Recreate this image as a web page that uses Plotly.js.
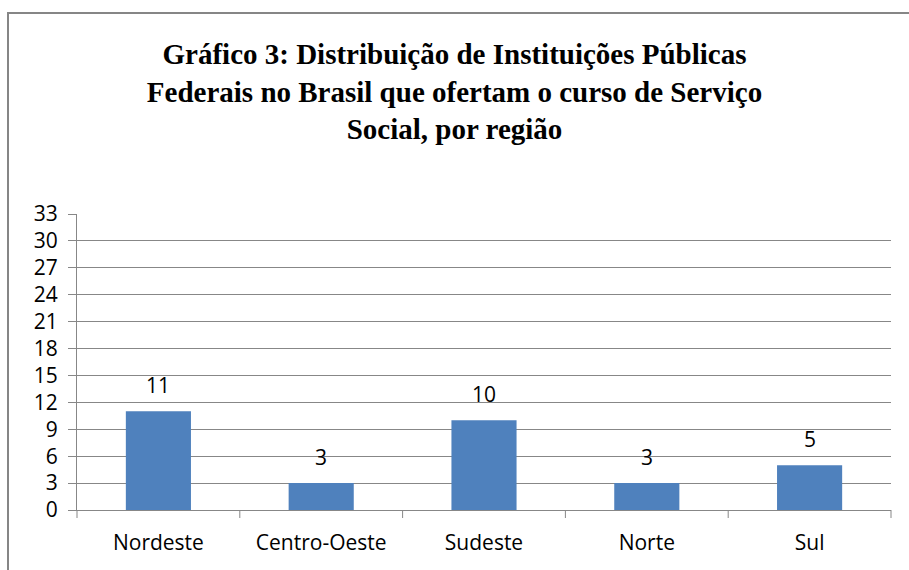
<!DOCTYPE html>
<html>
<head>
<meta charset="utf-8">
<script src="https://cdn.plot.ly/plotly-3.0.1.min.js"></script>
<style>html,body{margin:0;padding:0;background:#fff;}</style>
</head>
<body>
<div id="chart" style="width:909px;height:570px;"></div>
<script>
const categories = ["Nordeste", "Centro-Oeste", "Sudeste", "Norte", "Sul"];
const values = [11, 3, 10, 3, 5];
const yTicks = [0, 3, 6, 9, 12, 15, 18, 21, 24, 27, 30, 33];
const titleText = "Gráfico 3: Distribuição de Instituições Públicas<br>Federais no Brasil que ofertam o curso de Serviço<br>Social, por região";

const L = 77, R = 18, T = 214, B = 60, W = 909, H = 570;
const pw = W - L - R, ph = H - T - B;
const fx = px => (px - L) / pw;
const fy = py => (H - B - py) / ph;
const FONT = 'Open Sans, Noto Sans, Arial, sans-serif';

const trace = {
  type: 'bar',
  x: categories,
  y: values,
  marker: {color: '#4F81BD'},
  width: 0.4,
  textposition: 'none',
  hoverinfo: 'skip'
};

const annotations = categories.map((c, i) => ({
  x: c, y: values[i], xref: 'x', yref: 'y',
  text: String(values[i]), showarrow: false,
  yanchor: 'bottom', yshift: 10,
  font: {family: FONT, size: 21, color: '#000'}
}));

const layout = {
  width: W, height: H,
  margin: {l: L, r: R, t: T, b: B, pad: 0},
  paper_bgcolor: '#fff', plot_bgcolor: '#fff',
  showlegend: false,
  title: {
    text: titleText,
    x: 0.5, xref: 'container', xanchor: 'center',
    y: 1 - 64 / H, yref: 'container', yanchor: 'top',
    font: {family: 'Liberation Serif, Times New Roman, serif', size: 29, color: '#000', weight: 'bold'}
  },
  xaxis: {
    type: 'category',
    showgrid: false,
    showline: true, linecolor: '#878787', linewidth: 1,
    ticks: '',
    tickfont: {family: FONT, size: 21, color: '#000'},
    ticklabelstandoff: 14,
    fixedrange: true
  },
  yaxis: {
    range: [0, 33],
    tickvals: yTicks,
    ticktext: yTicks.map(String),
    showgrid: true, gridcolor: '#878787', gridwidth: 1,
    zeroline: false,
    showline: true, linecolor: '#878787', linewidth: 1,
    ticks: 'outside', ticklen: 8, tickcolor: '#878787',
    tickfont: {family: FONT, size: 21, color: '#000'},
    ticklabelstandoff: 6,
    fixedrange: true
  },
  annotations: annotations,
  shapes: [
    ...[0, 1, 2, 3, 4, 5].map(k => ({
      type: 'line', xref: 'paper', yref: 'paper',
      x0: k / 5, x1: k / 5, y0: 0, y1: -8 / ph,
      line: {color: '#878787', width: 1}
    })),
    {type: 'line', xref: 'paper', yref: 'paper', x0: fx(8), x1: fx(8), y0: fy(12), y1: fy(575), line: {color: '#868686', width: 2}},
    {type: 'line', xref: 'paper', yref: 'paper', x0: fx(7), x1: fx(915), y0: fy(13), y1: fy(13), line: {color: '#868686', width: 2}}
  ]
};

Plotly.newPlot('chart', [trace], layout, {displayModeBar: false, staticPlot: true});
</script>
</body>
</html>
